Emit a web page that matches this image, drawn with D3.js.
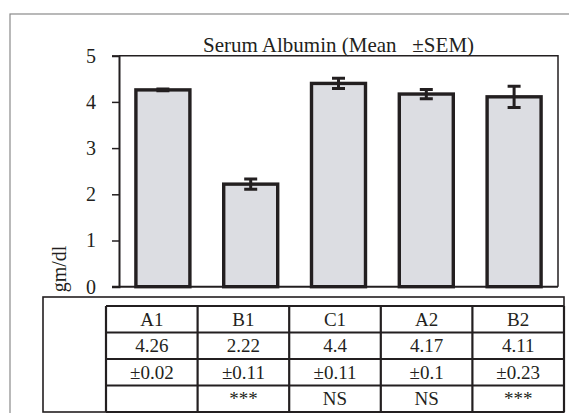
<!DOCTYPE html>
<html>
<head>
<meta charset="utf-8">
<script src="https://cdn.jsdelivr.net/npm/d3@7"></script>
<style>
  html, body { margin: 0; padding: 0; background: #fff; }
  svg { display: block; }
</style>
</head>
<body>
<svg id="chart" width="569" height="413"></svg>
<script>
// Serum albumin per group: mean and standard error (gm/dl)
const categories = ["A1", "B1", "C1", "A2", "B2"];
const means = [4.26, 2.22, 4.4, 4.17, 4.11];
const sems = [0.02, 0.11, 0.11, 0.1, 0.23];
const significance = ["", "***", "NS", "NS", "***"];
const yTicks = [0, 1, 2, 3, 4, 5];
const meanLabels = ["4.26", "2.22", "4.4", "4.17", "4.11"];
const semLabels = ["\u00b10.02", "\u00b10.11", "\u00b10.11", "\u00b10.1", "\u00b10.23"];

const ink = "#231f20";
const barFill = "#dcdde2";
const serif = "'Liberation Serif', 'Times New Roman', Times, 'DejaVu Serif', serif";

const svg = d3.select("#chart")
  .attr("font-family", serif)
  .style("font-family", serif);

// outer frame
svg.append("rect")
  .attr("x", 10).attr("y", 14)
  .attr("width", 600).attr("height", 450)
  .attr("fill", "none").attr("stroke", "#8a8a8a").attr("stroke-width", 1.2);

const plot = { left: 119, right: 558, top: 55.7, bottom: 286.7 };

const x = d3.scaleBand()
  .domain(categories)
  .range([plot.left, plot.right])
  .paddingInner(0.385)
  .paddingOuter(0.1925);

const y = d3.scaleLinear()
  .domain([0, 5])
  .range([plot.bottom, plot.top]);

// plot box top and right edges
svg.append("path")
  .attr("d", `M${plot.left},${plot.top}H${plot.right}V${plot.bottom}`)
  .attr("fill", "none").attr("stroke", ink).attr("stroke-width", 1.5);

// bars
svg.append("g").selectAll("rect")
  .data(categories)
  .join("rect")
  .attr("x", d => x(d))
  .attr("width", x.bandwidth())
  .attr("y", (d, i) => y(means[i]))
  .attr("height", (d, i) => y(0) - y(means[i]))
  .attr("fill", barFill)
  .attr("stroke", ink)
  .attr("stroke-width", 3.4);

// error bars
const capHalf = 6.5;
const err = svg.append("g").attr("stroke", ink).attr("stroke-width", 3).attr("fill", "none");
categories.forEach((c, i) => {
  const cx = x(c) + x.bandwidth() / 2;
  const hi = y(means[i] + sems[i]);
  const lo = y(means[i] - sems[i]);
  err.append("path")
    .attr("d", `M${cx},${hi}V${lo}M${cx - capHalf},${hi}H${cx + capHalf}M${cx - capHalf},${lo}H${cx + capHalf}`);
});

// y axis
const yAxis = svg.append("g")
  .attr("transform", `translate(${plot.left},0)`)
  .call(d3.axisLeft(y).tickValues(yTicks).tickFormat(d3.format("d")).tickSize(7).tickPadding(16));
yAxis.attr("font-family", serif).style("font-family", serif);
yAxis.select(".domain").attr("stroke", ink).attr("stroke-width", 2);
yAxis.selectAll(".tick line").attr("stroke", ink).attr("stroke-width", 1.5);
yAxis.selectAll(".tick text")
  .style("font-family", serif)
  .attr("font-size", 20).attr("fill", ink);

// x baseline
svg.append("line")
  .attr("x1", plot.left - 7).attr("x2", plot.right)
  .attr("y1", plot.bottom).attr("y2", plot.bottom)
  .attr("stroke", ink).attr("stroke-width", 2);

// title
svg.append("text")
  .attr("x", (plot.left + plot.right) / 2)
  .attr("y", 51.5)
  .attr("text-anchor", "middle")
  .attr("font-size", 21)
  .attr("fill", ink)
  .style("white-space", "pre")
  .text("Serum Albumin (Mean   \u00b1SEM)");

// y axis label
svg.append("text")
  .attr("transform", "translate(66,269) rotate(-90)")
  .attr("text-anchor", "middle")
  .attr("font-size", 20)
  .attr("fill", ink)
  .text("gm/dl");

// data table beneath the chart
const table = { outerLeft: 43, outerTop: 297, left: 106, right: 564, top: 306, bottom: 412 };
const rows = [categories, meanLabels, semLabels, significance];
const colX = d3.scaleBand().domain(categories).range([table.left, table.right]);
const rowY = d3.scaleBand().domain(d3.range(rows.length)).range([table.top, table.bottom]);

svg.append("rect")
  .attr("x", table.outerLeft).attr("y", table.outerTop)
  .attr("width", table.right - table.outerLeft)
  .attr("height", table.bottom - table.outerTop)
  .attr("fill", "none").attr("stroke", ink).attr("stroke-width", 1.6);

const grid = svg.append("g").attr("stroke", ink).attr("stroke-width", 2.2).attr("fill", "none");
rows.forEach((r, ri) => {
  grid.append("line")
    .attr("x1", table.left).attr("x2", table.right)
    .attr("y1", rowY(ri)).attr("y2", rowY(ri));
});
grid.append("line")
  .attr("x1", table.left).attr("x2", table.right)
  .attr("y1", table.bottom).attr("y2", table.bottom);
categories.forEach(c => {
  grid.append("line")
    .attr("x1", colX(c)).attr("x2", colX(c))
    .attr("y1", table.top).attr("y2", table.bottom);
});
grid.append("line")
  .attr("x1", table.right).attr("x2", table.right)
  .attr("y1", table.top).attr("y2", table.bottom);

rows.forEach((r, ri) => {
  svg.append("g").selectAll("text")
    .data(r)
    .join("text")
    .attr("x", (d, i) => colX(categories[i]) + colX.bandwidth() / 2)
    .attr("y", rowY(ri) + rowY.bandwidth() / 2 + 6.5)
    .attr("text-anchor", "middle")
    .attr("font-size", 19)
    .attr("fill", ink)
    .text(d => d);
});
</script>
</body>
</html>
